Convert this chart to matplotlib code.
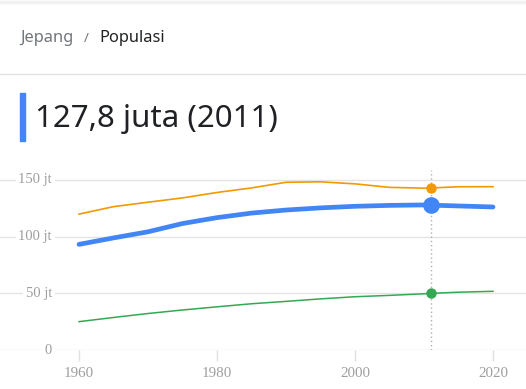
import matplotlib.pyplot as plt
from matplotlib.lines import Line2D
from matplotlib.patches import Rectangle

# Populasi (juta)
years = [1960, 1965, 1970, 1975, 1980, 1985, 1990, 1995, 2000, 2005, 2010, 2011, 2015, 2020]
jepang = [93.2, 98.9, 104.3, 111.6, 116.8, 120.8, 123.5, 125.4, 126.8, 127.6, 128.0, 127.8, 127.1, 126.2]
rusia = [119.9, 126.5, 130.4, 134.2, 139.0, 143.0, 148.0, 148.4, 146.6, 143.5, 142.8, 143.0, 144.0, 144.1]
korea = [25.0, 28.7, 32.2, 35.3, 38.1, 40.8, 42.9, 45.1, 47.0, 48.2, 49.6, 50.0, 51.0, 51.8]
highlight_year = 2011
yticks = [0, 50, 100, 150]
ytick_labels = ["0", "50 jt", "100 jt", "150 jt"]
xticks = [1960, 1980, 2000, 2020]

W, H = 526, 389
fig = plt.figure(figsize=(W / 100, H / 100), dpi=100)
fig.patch.set_facecolor("white")

# header
fig.add_artist(Line2D([0, 1], [1 - 1.5 / H, 1 - 1.5 / H], color="#f1f1f1", lw=2.5))
fig.add_artist(Line2D([0, 1], [1 - 74 / H, 1 - 74 / H], color="#e3e3e3", lw=1))
fig.text(20 / W, 1 - 38 / H, "Jepang", color="#70757a", fontsize=11.8,
         family="Noto Sans", va="center", ha="left")
fig.text(84 / W, 1 - 38 / H, "/", color="#70757a", fontsize=9.5,
         family="Noto Sans", va="center", ha="left")
fig.text(99 / W, 1 - 38 / H, "Populasi", color="#202124", fontsize=11.8,
         family="Noto Sans", va="center", ha="left")
fig.add_artist(Rectangle((20 / W, 1 - 141 / H), 5 / W, 48 / H, color="#4285f4",
                         transform=fig.transFigure))
fig.text(35 / W, 1 - 119 / H, "127,8 juta (2011)", color="#202124", fontsize=22.5,
         family="Noto Sans", va="center", ha="left")

# chart area: 1960 -> x=79, 2020 -> x=493 ; 0 -> y=350, 150 -> y=180
px_per_year = (493 - 79) / 60
px_per_unit = (350 - 180) / 150
x0 = 1960 - 79 / px_per_year
x1 = 2020 + (W - 493) / px_per_year
y_top = 170
ymax = (350 - y_top) / px_per_unit

ax = fig.add_axes([0, (H - 350) / H, 1, (350 - y_top) / H])
ax.set_xlim(x0, x1)
ax.set_ylim(0, ymax)
ax.set_facecolor("none")
for s in ax.spines.values():
    s.set_visible(False)

for v in yticks:
    ax.axhline(v, color="#e4e4e4", lw=1, zorder=0)
for v, lab in zip(yticks, ytick_labels):
    ax.text(x0 + 52 / px_per_year, v, lab, ha="right", va="center", color="#9e9e9e",
            fontsize=10.5, family="Liberation Serif", zorder=1,
            bbox=dict(facecolor="white", edgecolor="none", pad=2))

ax.set_yticks([])
ax.set_xticks(xticks)
ax.set_xticklabels([str(x) for x in xticks], family="Liberation Serif", fontsize=10.8,
                   color="#9e9e9e")
ax.tick_params(axis="x", length=8, width=1, color="#e0e0e0", pad=4)

ax.axvline(highlight_year, color="#b0b0b0", lw=1, ls=(0, (1, 2)), zorder=1)

ax.plot(years, rusia, color="#f29900", lw=1.2, zorder=2)
ax.plot(years, korea, color="#34a853", lw=1.1, zorder=2)
ax.plot(years, jepang, color="#4285f4", lw=3.4, solid_capstyle="round", zorder=3)

i = years.index(highlight_year)
ax.plot([highlight_year], [rusia[i]], "o", color="#f29900", ms=6.5, zorder=4)
ax.plot([highlight_year], [korea[i]], "o", color="#34a853", ms=6.5, zorder=4)
ax.plot([highlight_year], [jepang[i]], "o", color="#4285f4", ms=11, zorder=5)

fig.savefig("out.png", dpi=100)
